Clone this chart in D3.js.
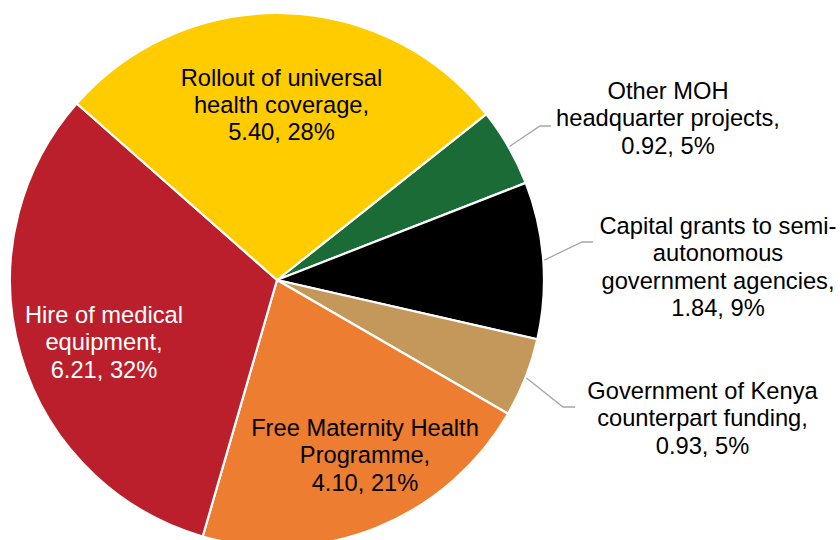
<!DOCTYPE html>
<html>
<head>
<meta charset="utf-8">
<script src="https://cdn.jsdelivr.net/npm/d3@7"></script>
<style>
  html, body { margin: 0; padding: 0; background: #ffffff; }
  svg { display: block; }
  text { font-family: "Liberation Sans", Arial, sans-serif; }
</style>
</head>
<body>
<svg id="chart" width="840" height="540"></svg>
<script>
// Health development spending by programme (KSh billions)
const categories = [
  "Other MOH headquarter projects",
  "Capital grants to semi-autonomous government agencies",
  "Government of Kenya counterpart funding",
  "Free Maternity Health Programme",
  "Hire of medical equipment",
  "Rollout of universal health coverage"
];
const values = [0.92, 1.84, 0.93, 4.10, 6.21, 5.40];
const colors = ["#1b6b36", "#000000", "#c4985a", "#ed7d31", "#ba1f2b", "#ffcc00"];

// Category names as they wrap in the labels
const nameLines = [
  ["Other MOH", "headquarter projects,"],
  ["Capital grants to semi-", "autonomous", "government agencies,"],
  ["Government of Kenya", "counterpart funding,"],
  ["Free Maternity Health", "Programme,"],
  ["Hire of medical", "equipment,"],
  ["Rollout of universal", "health coverage,"]
];

// Label placement: centre x, first baseline y, text colour, optional leader elbow
const labelLayout = [
  { x: 668,   y: 99,   fill: "#000000", elbow: [540, 126], end: 551 },
  { x: 718,   y: 234,  fill: "#000000", elbow: [582, 242], end: 593 },
  { x: 702.5, y: 399,  fill: "#000000", elbow: [563, 407], end: 575 },
  { x: 365,   y: 436,  fill: "#000000" },
  { x: 104,   y: 323,  fill: "#ffffff" },
  { x: 281.5, y: 85.5, fill: "#000000" }
];

const cx = 277, cy = 280, radius = 267;
const lineHeight = 27.3;
const fontSize = 23.7;
const startDeg = 51.6;

const total = d3.sum(values);
const fmtVal = d3.format(".2f");
const fmtPct = d3.format(".0%");

const svg = d3.select("#chart");
const g = svg.append("g").attr("transform", `translate(${cx},${cy})`);

const pie = d3.pie()
  .sort(null)
  .value(d => d)
  .startAngle(startDeg * Math.PI / 180)
  .endAngle(startDeg * Math.PI / 180 + 2 * Math.PI);

const arcs = pie(values);
const arc = d3.arc().innerRadius(0).outerRadius(radius);

g.selectAll("path.slice")
  .data(arcs)
  .join("path")
  .attr("class", "slice")
  .attr("d", arc)
  .attr("fill", (d, i) => colors[i])
  .attr("stroke", "#ffffff")
  .attr("stroke-width", 2.2)
  .attr("stroke-linejoin", "round");

// Leader lines for the small slices
arcs.forEach((d, i) => {
  const L = labelLayout[i];
  if (!L.elbow) return;
  const mid = (d.startAngle + d.endAngle) / 2;
  const sx = cx + (radius + 1) * Math.sin(mid);
  const sy = cy - (radius + 1) * Math.cos(mid);
  svg.append("polyline")
    .attr("points", `${sx},${sy} ${L.elbow[0]},${L.elbow[1]} ${L.end},${L.elbow[1]}`)
    .attr("fill", "none")
    .attr("stroke", "#a6a6a6")
    .attr("stroke-width", 1.3);
});

// Data labels: name, value, percentage
arcs.forEach((d, i) => {
  const L = labelLayout[i];
  const lines = nameLines[i].concat([`${fmtVal(values[i])}, ${fmtPct(values[i] / total)}`]);
  const t = svg.append("text")
    .attr("text-anchor", "middle")
    .attr("font-size", fontSize)
    .attr("fill", L.fill);
  lines.forEach((s, k) => {
    t.append("tspan")
      .attr("x", L.x)
      .attr("y", L.y + k * lineHeight)
      .text(s);
  });
});
</script>
</body>
</html>
